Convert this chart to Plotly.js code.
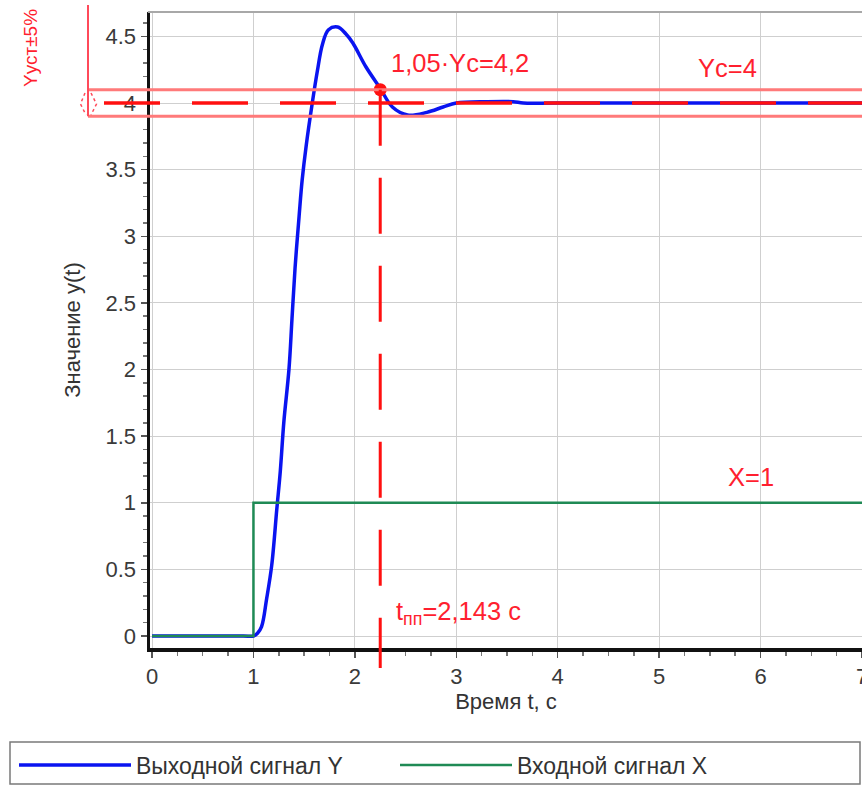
<!DOCTYPE html>
<html>
<head>
<meta charset="utf-8">
<script src="https://cdn.plot.ly/plotly-3.0.1.min.js"></script>
<style>html,body{margin:0;padding:0;background:#fff;}#chart{width:862px;height:785px;}</style>
</head>
<body>
<div id="chart"></div>
<script>
// ---- data ----
const timeY = [0, 0.9, 1.0, 1.04, 1.08, 1.13, 1.18, 1.23, 1.265, 1.30, 1.35, 1.38, 1.41, 1.45, 1.48, 1.52, 1.58, 1.63, 1.68, 1.74, 1.83, 1.91, 1.98, 2.11, 2.25, 2.37, 2.52, 2.71, 2.87, 3.0, 3.3, 3.56, 3.66, 4.0, 7.0];
const valuesY = [0, 0, 0, 0.02, 0.07, 0.28, 0.53, 0.95, 1.24, 1.61, 2.0, 2.38, 2.76, 3.15, 3.42, 3.68, 4.0, 4.24, 4.44, 4.55, 4.57, 4.52, 4.45, 4.27, 4.11, 3.97, 3.91, 3.93, 3.97, 4.0, 4.01, 4.01, 4.0, 4.0, 4.0];
const timeX = [0, 1, 1, 7];
const valuesX = [0, 0, 1, 1];
const seriesNames = ['Выходной сигнал Y', 'Входной сигнал X'];
const yc = 4;
const bandLevels = [4.1, 3.9];
const settleTime = 2.25;
const settleLevel = 4.1;
const xTicks = [0, 1, 2, 3, 4, 5, 6, 7];
const yTicks = [0, 0.5, 1, 1.5, 2, 2.5, 3, 3.5, 4, 4.5];
const yTickText = ['0', '0.5', '1', '1.5', '2', '2.5', '3', '3.5', '4', '4.5'];

// ---- layout helpers ----
const W = 862, H = 785, ML = 150, MR = 0, MT = 12, MB = 137;
const PW = W - ML - MR, PH = H - MT - MB;
const XR = [-0.02, 7.0], YR = [-0.09, 4.683];
const pxX = p => (p - ML) / PW;            // pixel x -> paper
const pxY = p => (H - MB - p) / PH;        // pixel y -> paper
const dataYtoPaper = v => (v - YR[0]) / (YR[1] - YR[0]);

const FONT = '"Liberation Sans", Arial, sans-serif';
const RED = '#ff1f2f';

const traces = [
  {x: timeY, y: valuesY, name: seriesNames[0], type: 'scatter', mode: 'lines', legend: 'legend',
   line: {color: '#0a14f0', width: 3.5, shape: 'spline', smoothing: 1}},
  {x: timeX, y: valuesX, name: seriesNames[1], type: 'scatter', mode: 'lines', legend: 'legend2',
   line: {color: '#1f8a55', width: 2.5}},
  {x: [settleTime], y: [settleLevel], type: 'scatter', mode: 'markers', showlegend: false,
   marker: {color: '#ff1010', size: 13}, cliponaxis: false, hoverinfo: 'skip'}
];

const shapes = [
  {type: 'line', xref: 'paper', yref: 'paper', x0: -0.003, x1: 1, y0: 1, y1: 1, line: {color: '#a8a8a8', width: 2}},
  {type: 'line', xref: 'paper', yref: 'y', x0: pxX(88), x1: 1, y0: bandLevels[0], y1: bandLevels[0], line: {color: '#ff7a7a', width: 3}},
  {type: 'line', xref: 'paper', yref: 'y', x0: pxX(88), x1: 1, y0: bandLevels[1], y1: bandLevels[1], line: {color: '#ff7a7a', width: 3}},
  {type: 'line', xref: 'paper', yref: 'y', x0: pxX(104), x1: 1, y0: yc, y1: yc, line: {color: '#ff1010', width: 3.5, dash: '56px,32px'}},
  {type: 'line', xref: 'paper', yref: 'paper', x0: pxX(88), x1: pxX(88), y0: dataYtoPaper(bandLevels[1]), y1: pxY(5), line: {color: '#ff4a5a', width: 2}},
  {type: 'path', xref: 'paper', yref: 'paper',
   path: 'M' + pxX(85) + ',' + pxY(93) + ' L' + pxX(80.5) + ',' + pxY(104) + ' L' + pxX(86) + ',' + pxY(115) +
         ' M' + pxX(91) + ',' + pxY(93) + ' L' + pxX(96.5) + ',' + pxY(104) + ' L' + pxX(91) + ',' + pxY(115),
   line: {color: '#ff4a5a', width: 1.5, dash: 'dot'}},
  {type: 'line', xref: 'x', yref: 'paper', x0: settleTime, x1: settleTime, y0: dataYtoPaper(settleLevel), y1: pxY(668),
   line: {color: '#ff1010', width: 3, dash: '56px,32px'}},
  {type: 'rect', xref: 'paper', yref: 'paper', x0: pxX(10), x1: pxX(860), y0: pxY(742), y1: pxY(784),
   line: {color: '#7a7a7a', width: 1.5}, fillcolor: 'rgba(0,0,0,0)'}
];

const annFont = {family: FONT, size: 25.5, color: RED};
const annotations = [
  {text: '1,05·Yc=4,2', xref: 'x', yref: 'y', x: 3.04, y: 4.30, showarrow: false, font: annFont},
  {text: 'Yc=4', xref: 'x', yref: 'y', x: 5.67, y: 4.26, showarrow: false, font: annFont},
  {text: 'X=1', xref: 'x', yref: 'y', x: 5.91, y: 1.19, showarrow: false, font: annFont},
  {text: 't<sub>пп</sub>=2,143 с', xref: 'x', yref: 'y', x: 2.39, y: 0.17, xanchor: 'left', showarrow: false, font: annFont},
  {text: 'Yуст±5%', xref: 'paper', yref: 'paper', x: pxX(31), y: pxY(48), xanchor: 'center', yanchor: 'middle',
   textangle: -90, showarrow: false, font: {family: FONT, size: 19, color: RED}}
];

const legFont = {family: FONT, size: 23, color: '#333'};
const layout = {
  width: W, height: H,
  margin: {l: ML, r: MR, t: MT, b: MB, pad: 0, autoexpand: false},
  paper_bgcolor: '#ffffff', plot_bgcolor: '#ffffff',
  font: {family: FONT, size: 22, color: '#3a3a3a'},
  showlegend: true,
  legend: {orientation: 'h', x: pxX(14), xanchor: 'left', y: pxY(765), yanchor: 'middle',
           itemwidth: 112, font: legFont, bgcolor: 'rgba(0,0,0,0)', borderwidth: 0},
  legend2: {orientation: 'h', x: pxX(395), xanchor: 'left', y: pxY(765), yanchor: 'middle',
           itemwidth: 112, font: legFont, bgcolor: 'rgba(0,0,0,0)', borderwidth: 0},
  xaxis: {range: XR, tickvals: xTicks, ticktext: xTicks.map(String), showgrid: true, gridcolor: '#cfcfcf', gridwidth: 1,
          zeroline: false, showline: true, linecolor: '#111', linewidth: 3.5,
          ticks: 'outside', ticklen: 6, tickcolor: '#555', tickwidth: 1.5, ticklabeloverflow: 'allow',
          minor: {dtick: 0.25, ticks: 'outside', ticklen: 4, tickcolor: '#777', showgrid: false},
          tickfont: {family: FONT, size: 22, color: '#3a3a3a'},
          title: {text: 'Время t, с', font: {family: FONT, size: 22, color: '#333'}, standoff: 6},
          automargin: false, fixedrange: true},
  yaxis: {range: YR, tickvals: yTicks, ticktext: yTickText, showgrid: true, gridcolor: '#cfcfcf', gridwidth: 1,
          zeroline: false, showline: true, linecolor: '#111', linewidth: 3.5,
          ticks: 'outside', ticklen: 6, tickcolor: '#555', tickwidth: 1.5,
          minor: {dtick: 0.1, ticks: 'outside', ticklen: 4, tickcolor: '#777', showgrid: false},
          tickfont: {family: FONT, size: 22, color: '#3a3a3a'},
          title: {text: 'Значение y(t)', font: {family: FONT, size: 22, color: '#333'}, standoff: 20},
          automargin: false, fixedrange: true},
  shapes: shapes,
  annotations: annotations
};

Plotly.newPlot('chart', traces, layout, {staticPlot: true, displayModeBar: false});
</script>
</body>
</html>
